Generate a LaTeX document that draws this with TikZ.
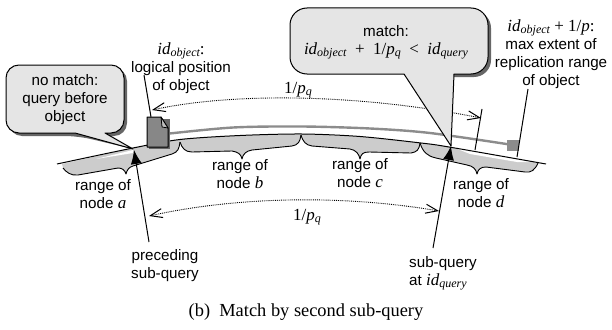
\documentclass[tikz,border=0pt]{standalone}
\usepackage{fontspec}
\setmainfont{Liberation Serif}
\setsansfont{Liberation Sans}
\usetikzlibrary{arrows.meta}

\newcommand{\mathsize}{\rmfamily\fontsize{17}{18}\selectfont}
\newcommand{\varn}[1]{{\mathsize\itshape #1}}
\newcommand{\idsub}[1]{{\mathsize\itshape id\raisebox{-2pt}{\fontsize{12}{12}\selectfont #1}}}
\newcommand{\invp}[1]{{\mathsize 1/\textit{p}\raisebox{-2pt}{\fontsize{12}{12}\selectfont\textit{#1}}}}

\tikzset{
  lbl/.style={font=\sffamily\fontsize{15.2}{18}\selectfont, align=center, inner sep=0pt},
  band/.style={fill=black!20, draw=none},
  brace/.style={draw=black, line width=0.9pt, line join=round},
  balloon/.style={fill=black!10, draw=black, line width=1pt, line join=round},
  balloonshadow/.style={fill=black!60, draw=none},
  leader/.style={draw=black, line width=1pt},
  span/.style={densely dotted, line width=0.9pt,
    {Straight Barb[length=12pt,width=9pt,line width=1pt]}-{Straight Barb[length=12pt,width=9pt,line width=1pt]}},
  query/.style={line width=1pt, -{Latex[length=14pt,width=11pt]}}
}

\begin{document}
\begin{tikzpicture}[x=1pt,y=-1pt]
\useasboundingbox (0,0) rectangle (612,329);

%range bands
\fill[band] (62,164) -- (133,148) -- (180,139) -- (180,142) .. controls (179,149) and (178,152) .. (172,154) -- (133,166)
  .. controls (129,167) and (127,170) .. (126,174) .. controls (125,170) and (122,168) .. (118,168)
  -- (78,175) .. controls (71,176) and (66,172) .. (63,168) -- cycle;
\fill[band] (180,139) -- (240,135.5) -- (302,134) -- (301,135) .. controls (300,142) and (298,145) .. (292,146)
  -- (252,150) .. controls (246,151) and (243,154) .. (242,159) .. controls (241,154) and (238,152) .. (232,151)
  -- (192,152) .. controls (185,152) and (182,148) .. (180,142) -- cycle;
\fill[band] (302,134) -- (360,136.5) -- (420,143) .. controls (419,150) and (417,152) .. (411,153)
  -- (369,152) .. controls (363,152) and (361,154) .. (360,159) .. controls (359,154) and (356,150) .. (350,149)
  -- (312,146) .. controls (306,145) and (303,142) .. (301,135) -- cycle;
\fill[band] (420,143) -- (449,147) -- (538,163) .. controls (535,170) and (531,173) .. (525,172)
  -- (486,167) .. controls (481,167) and (478,169) .. (477,174) .. controls (476,169) and (473,166) .. (467,165)
  -- (436,158) .. controls (427,156) and (423,152) .. (420,143) -- cycle;
\fill[white] (96,159) -- (133,150) -- (133,153) -- cycle;
\fill[white] (455,148) -- (536,162) -- (517,162) -- (470,154) -- cycle;

\draw[brace] (63,168) .. controls (66,172) and (71,176) .. (78,175) -- (118,168)
  .. controls (122,168) and (125,170) .. (126,174) .. controls (127,170) and (129,167) .. (133,166) -- (172,154)
  .. controls (178,152) and (179,149) .. (180,142);
\draw[brace] (180,142) .. controls (182,148) and (185,152) .. (192,152) -- (232,151)
  .. controls (238,152) and (241,154) .. (242,159) .. controls (243,154) and (246,151) .. (252,150) -- (292,146)
  .. controls (298,145) and (300,142) .. (301,135);
\draw[brace] (301,135) .. controls (303,142) and (306,145) .. (312,146) -- (350,149)
  .. controls (356,150) and (359,154) .. (360,159) .. controls (361,154) and (363,152) .. (369,152) -- (411,153)
  .. controls (417,152) and (419,150) .. (420,143);
\draw[brace] (420,143) .. controls (423,152) and (427,156) .. (436,158) -- (467,165)
  .. controls (473,166) and (476,169) .. (477,174) .. controls (478,169) and (481,167) .. (486,167) -- (525,172)
  .. controls (531,173) and (535,170) .. (538,163);

%ring and replication range
\draw[black, line width=1pt] plot[smooth] coordinates {(57,164) (133,148) (180,139.5) (240,135.5) (302,134) (360,136.5) (421,143) (449,147) (546,164)};
\draw[black!45, line width=2.4pt] plot[smooth] coordinates {(165,134) (233,127.5) (302,126.5) (370,128.5) (430,133) (513,145)};
\fill[black!45] (507,140) rectangle (519,151);

%object
\fill[black!60] (149,119) rectangle (169.5,148.5);
\filldraw[fill=black!47, draw=black, line width=1pt, line join=round] (147,117) -- (161,117) -- (168,128) -- (168,147) -- (147,147) -- cycle;
\filldraw[fill=black!25, draw=black, line width=0.8pt, line join=round] (161,117) -- (162,127) -- (168,128) -- cycle;

\coordinate (objTop) at (151,117);
\coordinate (objLabel) at (144,75);
\coordinate (extTick) at (475,150);
\coordinate (extTickTop) at (482,109);
\coordinate (extEnd) at (517,157);
\coordinate (extLabel) at (528,89);
\draw[leader] (objLabel) -- (objTop);
\draw[leader] (extTick) -- (extTickTop);
\draw[leader] (extEnd) -- (extLabel);

%distances
\coordinate (topL) at (152,110);
\coordinate (topR) at (481,118);
\coordinate (botL) at (149,216);
\coordinate (botR) at (439,211);
\draw[span] (topL) .. controls (235,92) and (360,94) .. (topR);
\draw[span] (botL) .. controls (240,196) and (345,195) .. (botR);

%balloons
\fill[balloonshadow] (78,136) -- (133,149) -- (108,136) -- (111,136) [rounded corners=13pt] -- (127,136) -- (127,68) -- (9,68) -- (9,136) -- cycle;
\draw[balloon] (75,133) -- (133,149) -- (105,133) [rounded corners=13pt] -- (124,133) -- (124,65) -- (6,65) -- (6,133) [sharp corners] -- cycle;
\fill[balloonshadow] (451,146) -- (454,77) -- (458,77) [rounded corners=17pt] -- (491,77) -- (491,11) -- (300,11) -- (300,50) [sharp corners] -- (440,60) -- cycle;
\draw[balloon] (404,74) -- (451,146) -- (454,74) [rounded corners=17pt] -- (488,74) -- (488,8) -- (290,8) -- (290,74) [sharp corners] -- cycle;

%queries
\coordinate (tipA) at (134,150);
\coordinate (tipD) at (451,146);
\coordinate (prevEnd) at (149,242);
\coordinate (subEnd) at (433,248);
\draw[query] (prevEnd) -- (tipA);
\draw[query] (subEnd) -- (tipD);

\node[lbl] (noMatch) at (65,100) {no match:\\query before\\object};
\node[lbl] (match) at (386,42) {match:\\\idsub{object}{\mathsize\ \ +\ \ }\invp{q}{\mathsize\ \ <\ \ }\idsub{query}};
\node[lbl] (logPos) at (181,68) {\idsub{object}{\mathsize :}\\logical position\\of object};
\node[lbl] (maxExt) at (551,54) {\idsub{object}{\mathsize\ + 1/\textit{p}:}\\max extent of\\replication range\\of object};
\node[lbl] (pqTop) at (298,90) {\invp{q}};
\node[lbl] (pqBot) at (307,217) {\invp{q}};
\node[lbl] (rangeA) at (103,194) {range of\\node \varn{a}};
\node[lbl] (rangeB) at (240,174) {range of\\node \varn{b}};
\node[lbl] (rangeC) at (360,173) {range of\\node \varn{c}};
\node[lbl] (rangeD) at (481,193) {range of\\node \varn{d}};
\node[lbl] (prevQuery) at (165,266) {preceding\\sub-query};
\node[lbl, align=left, anchor=west] (subQuery) at (409,273) {sub-query\\at \idsub{query}};
\node[font=\rmfamily\fontsize{18.4}{20}\selectfont, inner sep=0pt] (caption) at (306,312) {(b)\ \ Match by second sub-query};

\end{tikzpicture}
\end{document}
